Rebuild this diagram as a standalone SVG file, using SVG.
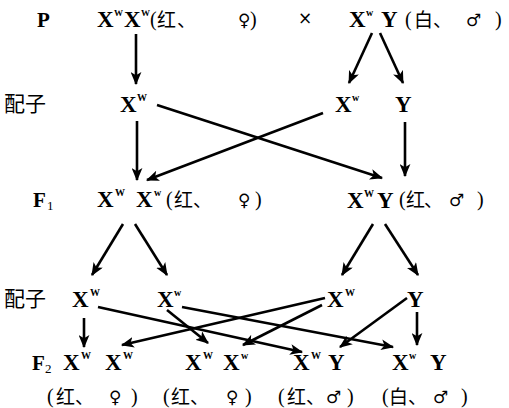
<svg xmlns="http://www.w3.org/2000/svg" width="509" height="408" viewBox="0 0 509 408">
<style>
.g{font-family:"Liberation Serif","Times New Roman",serif;font-weight:bold;font-size:23px;fill:#000}
.s{font-family:"Liberation Serif",serif;font-weight:bold;font-size:10px;fill:#000}
.c{font-family:"Noto Sans CJK SC",sans-serif;font-size:19px;fill:#000}
.p{font-family:"Liberation Serif",serif;font-size:20px;fill:#000}
.sym{font-family:"DejaVu Sans",sans-serif;font-size:17px;fill:#000}
.l{font-family:"Noto Sans CJK SC",sans-serif;font-size:21px;fill:#000}
.a{stroke:#000;stroke-width:2.6;fill:none;marker-end:url(#ah)}
</style>
<defs>
<marker id="ah" viewBox="0 0 12 10" refX="11" refY="5" markerWidth="13" markerHeight="11" markerUnits="userSpaceOnUse" orient="auto">
<path d="M0,0 L12,5 L0,10 L3,5 z" fill="#000"/>
</marker>
</defs>
<g id="labels">
<text class="g" x="37" y="27" style="font-size:21px">P</text>
<text class="l" x="4" y="111">配子</text>
<text class="g" x="33" y="207" style="font-size:21px">F</text><text class="p" x="47" y="210" style="font-size:13px">1</text>
<text class="l" x="4" y="306">配子</text>
<text class="g" x="32" y="370" style="font-size:21px">F</text><text class="p" x="45" y="373" style="font-size:13px">2</text>
</g>
<g id="p-female">
<text class="g" x="97" y="27">X</text><text class="s" x="114" y="16" style="font-size:9px">W</text>
<text class="g" x="124" y="27">X</text><text class="s" x="141" y="16" style="font-size:9px">W</text>
<text class="p" x="150" y="26">(</text><text class="c" x="157" y="27">红</text><text class="c" x="177" y="27">、</text><text class="sym" x="238" y="26">♀</text><text class="p" x="250" y="26">)</text>
</g>
<g id="cross"><text class="sym" x="298" y="24">×</text></g>
<g id="p-male">
<text class="g" x="349" y="27">X</text><text class="s" x="366" y="16">w</text>
<text class="g" x="381" y="27">Y</text>
<text class="p" x="405" y="26">(</text><text class="c" x="414" y="27">白</text><text class="c" x="433" y="27">、</text><text class="sym" x="466" y="26">♂</text><text class="p" x="495" y="26">)</text>
</g>
<g id="gam1-XW"><text class="g" x="120" y="112">X</text><text class="s" x="137" y="101">W</text></g>
<g id="gam1-Xw"><text class="g" x="335" y="112">X</text><text class="s" x="352" y="101">w</text></g>
<g id="gam1-Y"><text class="g" x="395" y="112">Y</text></g>
<g id="f1-female">
<text class="g" x="97" y="207">X</text><text class="s" x="115" y="196">W</text>
<text class="g" x="136" y="207">X</text><text class="s" x="154" y="196">w</text>
<text class="p" x="166" y="206">(</text><text class="c" x="174" y="207">红</text><text class="c" x="193" y="207">、</text><text class="sym" x="238" y="206">♀</text><text class="p" x="255" y="206">)</text>
</g>
<g id="f1-male">
<text class="g" x="347" y="208">X</text><text class="s" x="364" y="197">W</text>
<text class="g" x="377" y="208">Y</text>
<text class="p" x="399" y="206">(</text><text class="c" x="406" y="207">红</text><text class="c" x="424" y="207">、</text><text class="sym" x="449" y="206">♂</text><text class="p" x="477" y="206">)</text>
</g>
<g id="gam2-XW-f"><text class="g" x="72" y="307">X</text><text class="s" x="90" y="296">W</text></g>
<g id="gam2-Xw-f"><text class="g" x="157" y="307">X</text><text class="s" x="174" y="296">w</text></g>
<g id="gam2-XW-m"><text class="g" x="327" y="307">X</text><text class="s" x="345" y="296">W</text></g>
<g id="gam2-Y-m"><text class="g" x="407" y="307">Y</text></g>
<g id="f2-1">
<text class="g" x="63" y="370">X</text><text class="s" x="81" y="359">W</text>
<text class="g" x="105" y="370">X</text><text class="s" x="123" y="359">W</text>
<text class="p" x="47" y="403">(</text><text class="c" x="56" y="404">红</text><text class="c" x="75" y="404">、</text><text class="sym" x="109" y="403">♀</text><text class="p" x="131" y="403">)</text>
</g>
<g id="f2-2">
<text class="g" x="185" y="370">X</text><text class="s" x="203" y="359">W</text>
<text class="g" x="223" y="370">X</text><text class="s" x="241" y="359">w</text>
<text class="p" x="163" y="403">(</text><text class="c" x="171" y="404">红</text><text class="c" x="190" y="404">、</text><text class="sym" x="226" y="403">♀</text><text class="p" x="245" y="403">)</text>
</g>
<g id="f2-3">
<text class="g" x="293" y="370">X</text><text class="s" x="311" y="359">W</text>
<text class="g" x="328" y="370">Y</text>
<text class="p" x="278" y="403">(</text><text class="c" x="287" y="404">红</text><text class="c" x="306" y="404">、</text><text class="sym" x="326" y="403">♂</text><text class="p" x="347" y="403">)</text>
</g>
<g id="f2-4">
<text class="g" x="392" y="370">X</text><text class="s" x="409" y="359">w</text>
<text class="g" x="430" y="370">Y</text>
<text class="p" x="382" y="403">(</text><text class="c" x="389" y="404">白</text><text class="c" x="408" y="404">、</text><text class="sym" x="433" y="403">♂</text><text class="p" x="461" y="403">)</text>
</g>
<g id="connectors">
<line class="a" x1="136" y1="34" x2="136" y2="84"/>
<line class="a" x1="372" y1="33" x2="349" y2="83"/>
<line class="a" x1="380" y1="33" x2="403" y2="83"/>
<line class="a" x1="137" y1="121" x2="137" y2="180"/>
<line class="a" x1="157" y1="105" x2="382" y2="178"/>
<line class="a" x1="323" y1="113" x2="147" y2="180"/>
<line class="a" x1="405" y1="122" x2="405" y2="176"/>
<line class="a" x1="123" y1="224" x2="92" y2="275"/>
<line class="a" x1="135" y1="224" x2="167" y2="275"/>
<line class="a" x1="373" y1="224" x2="342" y2="275"/>
<line class="a" x1="385" y1="224" x2="418" y2="275"/>
<line class="a" x1="84" y1="318" x2="84" y2="347"/>
<line class="a" x1="98" y1="307" x2="302" y2="352"/>
<line class="a" x1="167" y1="310" x2="208" y2="343"/>
<line class="a" x1="182" y1="307" x2="393" y2="347"/>
<line class="a" x1="325" y1="298" x2="122" y2="345"/>
<line class="a" x1="322" y1="305" x2="243" y2="345"/>
<line class="a" x1="407" y1="298" x2="340" y2="347"/>
<line class="a" x1="417" y1="312" x2="417" y2="345"/>
</g>
</svg>
